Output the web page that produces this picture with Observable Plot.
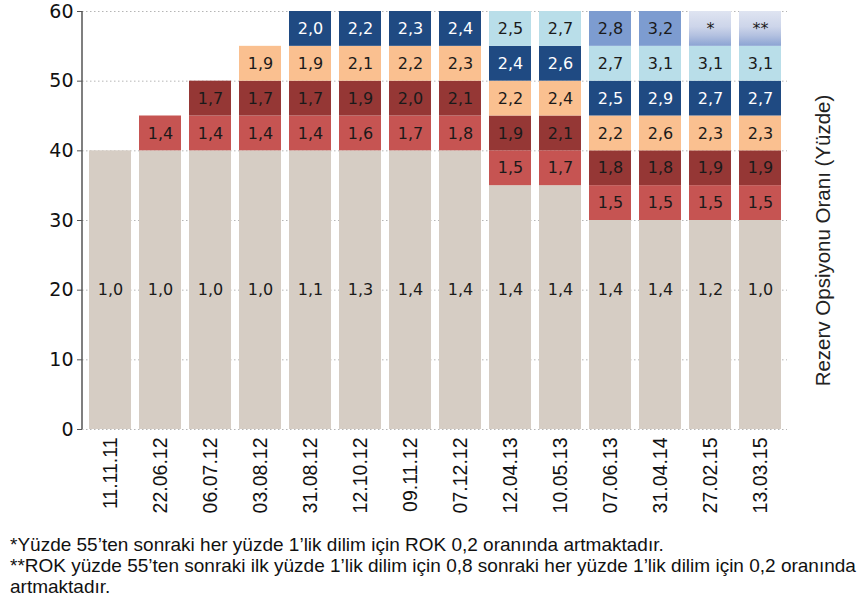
<!DOCTYPE html>
<html>
<head>
<meta charset="utf-8">
<script src="https://cdn.jsdelivr.net/npm/d3@7"></script>
<script src="https://cdn.jsdelivr.net/npm/@observablehq/plot@0.6"></script>
<style>
  body { margin: 0; background: #fff; font-family: "Liberation Sans", Arial, sans-serif; }
  #chart svg { display: block; }
  #notes { margin-top: 14px; padding-left: 10px; font-size: 19px; line-height: 21px; color: #111; }
</style>
</head>
<body>
<div id="chart"></div>
<div id="notes">
  <div>*Yüzde 55’ten sonraki her yüzde 1’lik dilim için ROK 0,2 oranında artmaktadır.</div>
  <div>**ROK yüzde 55’ten sonraki ilk yüzde 1’lik dilim için 0,8 sonraki her yüzde 1’lik dilim için 0,2 oranında artmaktadır.</div>
</div>
<script>
// ---- data ----
const dates = ["11.11.11","22.06.12","06.07.12","03.08.12","31.08.12","12.10.12","09.11.12","07.12.12","12.04.13","10.05.13","07.06.13","31.04.14","27.02.15","13.03.15"];
const baseLimit = [40,40,40,40,40,40,40,40,35,35,30,30,30,30];
const baseRate  = [1.0,1.0,1.0,1.0,1.1,1.3,1.4,1.4,1.4,1.4,1.4,1.4,1.2,1.0];
const tranche1 = [null,1.4,1.4,1.4,1.4,1.6,1.7,1.8,1.5,1.7,1.5,1.5,1.5,1.5];
const tranche2 = [null,null,1.7,1.7,1.7,1.9,2.0,2.1,1.9,2.1,1.8,1.8,1.9,1.9];
const tranche3 = [null,null,null,1.9,1.9,2.1,2.2,2.3,2.2,2.4,2.2,2.6,2.3,2.3];
const tranche4 = [null,null,null,null,2.0,2.2,2.3,2.4,2.4,2.6,2.5,2.9,2.7,2.7];
const tranche5 = [null,null,null,null,null,null,null,null,2.5,2.7,2.7,3.1,3.1,3.1];
const tranche6 = [null,null,null,null,null,null,null,null,null,null,2.8,3.2,"*","**"];
const sliceWidth = 5;
const yTicks = [0,10,20,30,40,50,60];
const yTitle = "Rezerv Opsiyonu Oranı (Yüzde)";

const trancheNames = ["t1","t2","t3","t4","t5","t6"];
const colorDomain = ["base","t1","t2","t3","t4","t5","t6","grad"];
const colorRange  = ["#d6cdc4","#c65452","#953735","#fac090","#1f4a82","#b9dee9","#7d9cd0","url(#topGrad)"];

const fmt = v => typeof v === "number" ? v.toFixed(1).replace(".", ",") : v;

const rows = [];
dates.forEach((d, i) => {
  rows.push({date: d, tranche: "base", y1: 0, y2: baseLimit[i], label: fmt(baseRate[i]), ly: 20});
  [tranche1, tranche2, tranche3, tranche4, tranche5, tranche6].forEach((arr, k) => {
    const v = arr[i];
    if (v == null) return;
    const y1 = baseLimit[i] + k * sliceWidth;
    const t = typeof v === "string" ? "grad" : trancheNames[k];
    rows.push({date: d, tranche: t, y1, y2: y1 + sliceWidth, label: fmt(v), ly: y1 + sliceWidth / 2});
  });
});

const NS = "http://www.w3.org/2000/svg";
function decor(index, scales, values, dims) {
  const g = document.createElementNS(NS, "g");
  const defs = document.createElementNS(NS, "defs");
  const lg = document.createElementNS(NS, "linearGradient");
  lg.setAttribute("id", "topGrad");
  lg.setAttribute("x1", "0"); lg.setAttribute("y1", "0");
  lg.setAttribute("x2", "0"); lg.setAttribute("y2", "1");
  [[0,"#dfe4f1"],[0.45,"#cdd5ea"],[0.7,"#b3c1e0"],[1,"#8ba3d3"]].forEach(([o,c]) => {
    const s = document.createElementNS(NS, "stop");
    s.setAttribute("offset", o); s.setAttribute("stop-color", c);
    lg.appendChild(s);
  });
  defs.appendChild(lg);
  g.appendChild(defs);
  const line = document.createElementNS(NS, "line");
  line.setAttribute("x1", dims.marginLeft); line.setAttribute("x2", dims.marginLeft);
  line.setAttribute("y1", scales.y(60)); line.setAttribute("y2", scales.y(0));
  line.setAttribute("stroke", "#555"); line.setAttribute("stroke-width", "1.5");
  g.appendChild(line);
  return g;
}

const wide = "'DejaVu Sans', Verdana, sans-serif";
const chart = Plot.plot({
  width: 860,
  height: 520,
  marginTop: 11,
  marginLeft: 82,
  marginRight: 73,
  marginBottom: 91,
  style: {fontFamily: "'Liberation Sans', Arial, sans-serif", color: "#111", background: "#fff"},
  x: {domain: dates, paddingInner: 0.17, paddingOuter: 0.08, label: null},
  y: {domain: [0, 60], label: null},
  color: {domain: colorDomain, range: colorRange},
  marks: [
    Plot.ruleY(yTicks, {stroke: "#b5b5b5", strokeDasharray: "1.5,2.5"}),
    Plot.barY(rows, {x: "date", y1: "y1", y2: "y2", fill: "tranche"}),
    Plot.text(rows.filter(d => d.tranche !== "t4"), {x: "date", y: "ly", text: "label", fill: "#1a1a1a", fontSize: 16, fontFamily: wide}),
    Plot.text(rows.filter(d => d.tranche === "t4"), {x: "date", y: "ly", text: "label", fill: "#ffffff", fontSize: 16, fontFamily: wide}),
    Plot.axisY({ticks: yTicks, tickSize: 5, tickPadding: 4, fontSize: 19, fontFamily: wide, label: null, stroke: "#555"}),
    Plot.axisX({tickRotate: -90, tickSize: 0, tickPadding: 8, fontSize: 19.5, label: null}),
    Plot.text([yTitle], {frameAnchor: "right", rotate: -90, textAnchor: "middle", dx: 36, dy: 20, fontSize: 20.5, fill: "#222"}),
    decor
  ]
});
document.getElementById("chart").appendChild(chart);
</script>
</body>
</html>
